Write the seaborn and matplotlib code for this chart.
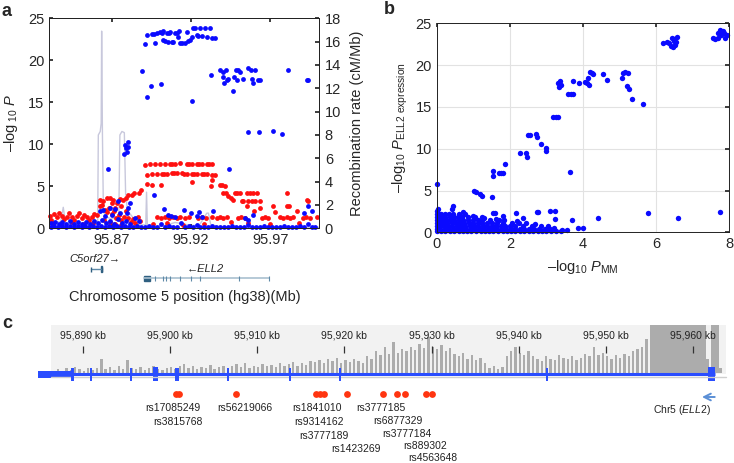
import numpy as np
import pandas as pd
import matplotlib
matplotlib.use('Agg')
import matplotlib.pyplot as plt
import seaborn as sns
from matplotlib.patches import Rectangle

# ---------------- panel a : regional association (Mb, -log10 P) ----------------
blue_top = [(95.8910, 21.9), (95.8920, 23.0), (95.8952, 23.1), (95.8967, 23.1), (95.8973, 22.0), (95.8988, 23.2),
            (95.9005, 23.4), (95.9015, 23.3), (95.9025, 23.5), (95.9025, 22.4), (95.9036, 22.3), (95.9047, 23.2),
            (95.9057, 22.2), (95.9062, 23.3), (95.9068, 23.4), (95.9078, 22.2), (95.9088, 22.2), (95.9099, 23.3),
            (95.9110, 23.3), (95.9120, 22.8), (95.9126, 23.5), (95.9131, 22.1), (95.9146, 22.1), (95.9162, 22.1),
            (95.9173, 23.4), (95.9180, 22.3), (95.9194, 22.4), (95.9204, 22.8), (95.9215, 23.8), (95.9225, 23.9),
            (95.9236, 23.0), (95.9246, 22.9), (95.9257, 23.9), (95.9267, 22.9), (95.9288, 23.9), (95.9299, 22.8),
            (95.9320, 23.9), (95.9330, 22.7), (95.9351, 22.6)]
blue_mid = [(95.8889, 18.7), (95.8921, 15.6), (95.8946, 16.9), (95.9009, 17.2), (95.9206, 15.1), (95.9324, 18.3),
            (95.9383, 18.8), (95.9404, 18.6), (95.9421, 18.8), (95.9404, 18.0), (95.9425, 17.6), (95.9435, 17.8),
            (95.9408, 17.3), (95.9463, 16.3), (95.9471, 18.0), (95.9484, 18.8), (95.9498, 18.9), (95.9509, 18.6),
            (95.9492, 17.7), (95.9530, 17.8), (95.9561, 19.1), (95.9576, 18.8), (95.9603, 18.8), (95.9583, 17.8),
            (95.9593, 17.3), (95.9624, 17.7), (95.9635, 17.7), (95.9810, 18.8), (95.9930, 17.6), (95.9940, 17.6),
            (95.9557, 11.5), (95.9630, 11.5), (95.9715, 11.6), (95.9776, 11.2),
            (95.8775, 8.9), (95.8784, 9.9), (95.8790, 9.5), (95.8799, 9.1), (95.8802, 9.7), (95.8806, 10.3),
            (95.8679, 7.0), (95.9442, 7.1), (95.8969, 4.0)]
blue_low = [(95.8626, 2.1), (95.8645, 2.2), (95.8689, 2.4), (95.8720, 2.3), (95.8742, 3.2), (95.8816, 3.0),
            (95.8805, 2.4), (95.8795, 1.8), (95.8755, 1.8), (95.9030, 2.3), (95.9057, 1.6), (95.9072, 1.5),
            (95.9100, 1.4), (95.9156, 2.2), (95.9198, 1.8), (95.9236, 1.5), (95.9253, 1.9), (95.9268, 1.4),
            (95.9337, 2.1), (95.9541, 1.2), (95.9562, 1.0), (95.9593, 1.6), (95.9913, 1.8), (95.9935, 2.6),
            (95.9961, 2.1), (95.8700, 1.6), (95.8660, 1.5), (95.8850, 1.2), (95.8870, 0.9),
            (95.8315, 0.2), (95.8315, 0.6), (95.8335, 0.3), (95.8340, 0.8), (95.8360, 0.1), (95.8365, 0.5),
            (95.8385, 0.3), (95.8390, 0.8), (95.8410, 0.15), (95.8415, 0.55), (95.8435, 0.3), (95.8440, 0.85),
            (95.8460, 0.1), (95.8465, 0.5), (95.8485, 0.3), (95.8490, 0.75), (95.8510, 0.15), (95.8515, 0.55),
            (95.8535, 0.3), (95.8540, 0.8), (95.8560, 0.1), (95.8565, 0.5), (95.8585, 0.3), (95.8590, 0.9),
            (95.8610, 0.15), (95.8615, 0.6), (95.8635, 0.3), (95.8640, 1.0), (95.8660, 0.15), (95.8665, 0.6),
            (95.8685, 0.3), (95.8690, 0.9), (95.8710, 0.1), (95.8715, 0.5), (95.8735, 0.3), (95.8740, 1.1),
            (95.8760, 0.15), (95.8765, 0.6), (95.8785, 0.3), (95.8790, 0.9), (95.8810, 0.2), (95.8815, 0.5),
            (95.8835, 0.15), (95.8860, 0.3), (95.8885, 0.1),
            (95.8910, 0.1), (95.8935, 0.3), (95.8960, 0.1), (95.8985, 0.2), (95.9010, 0.5), (95.9035, 0.1),
            (95.9060, 0.3), (95.9085, 0.1), (95.9110, 0.2), (95.9135, 0.6), (95.9160, 0.1), (95.9185, 0.3),
            (95.9210, 0.1), (95.9235, 0.4), (95.9260, 0.1), (95.9285, 0.2), (95.9310, 0.1), (95.9335, 0.3),
            (95.9360, 0.1), (95.9385, 0.2), (95.9410, 0.1), (95.9435, 0.1), (95.9460, 0.3), (95.9485, 0.1),
            (95.9510, 0.2), (95.9535, 0.1), (95.9560, 0.4), (95.9585, 0.1), (95.9610, 0.2), (95.9635, 0.1),
            (95.9660, 0.3), (95.9685, 0.1), (95.9710, 0.2), (95.9735, 0.1), (95.9760, 0.1), (95.9785, 0.3),
            (95.9810, 0.1), (95.9835, 0.2), (95.9860, 0.1), (95.9885, 0.3), (95.9910, 0.1), (95.9935, 0.5),
            (95.9960, 0.1), (95.9985, 0.2)]

red_hi = [(95.8910, 7.5), (95.8941, 7.6), (95.8973, 7.6), (95.9004, 7.6), (95.9036, 7.7), (95.9067, 7.7),
          (95.9083, 7.6), (95.9099, 7.7), (95.9130, 7.8), (95.9172, 7.7), (95.9188, 7.7), (95.9204, 7.7),
          (95.9235, 7.7), (95.9251, 7.6), (95.9267, 7.7), (95.9299, 7.7), (95.9315, 7.6), (95.9330, 7.7),
          (95.8921, 6.4), (95.8952, 6.5), (95.8984, 6.5), (95.9015, 6.5), (95.9031, 6.5), (95.9047, 6.5),
          (95.9078, 6.6), (95.9094, 6.6), (95.9110, 6.6), (95.9141, 6.6), (95.9157, 6.5), (95.9173, 6.5),
          (95.9204, 6.5), (95.9220, 6.5), (95.9236, 6.5), (95.9267, 6.5), (95.9283, 6.5), (95.9299, 6.5),
          (95.9330, 6.4), (95.9352, 6.3),
          (95.8921, 5.3), (95.8952, 5.2), (95.9009, 5.2), (95.9208, 5.5), (95.8885, 4.5), (95.8874, 4.2),
          (95.8841, 4.2), (95.8830, 4.0), (95.8805, 4.0), (95.8790, 3.6), (95.8773, 3.4), (95.8750, 3.5),
          (95.8732, 3.05), (95.8710, 3.4), (95.8690, 3.6), (95.8668, 3.6), (95.8647, 3.2), (95.8626, 3.4),
          (95.8700, 3.0), (95.8760, 2.6), (95.8720, 2.4),
          (95.9330, 5.7), (95.9324, 5.0), (95.9383, 5.2), (95.9398, 5.2), (95.9414, 5.0), (95.9404, 4.2),
          (95.9420, 4.2), (95.9435, 3.8), (95.9450, 3.6), (95.9467, 3.4), (95.9477, 4.2), (95.9492, 4.2),
          (95.9509, 4.2), (95.9520, 3.3), (95.9530, 3.3), (95.9551, 4.2), (95.9572, 4.2), (95.9593, 4.2),
          (95.9614, 4.2), (95.9561, 3.3), (95.9583, 3.3), (95.9604, 3.3), (95.9635, 3.3), (95.9551, 2.6),
          (95.9635, 2.4), (95.9715, 2.6), (95.9803, 2.6), (95.9818, 2.6), (95.9807, 4.2), (95.9933, 3.4),
          (95.9940, 3.2)]
red_low = [(95.8311, 1.5), (95.8320, 1.0), (95.8335, 1.7), (95.8353, 1.4), (95.8370, 1.8), (95.8385, 1.5),
           (95.8400, 1.1), (95.8416, 1.4), (95.8430, 1.8), (95.8448, 1.3), (95.8465, 1.0), (95.8479, 1.5),
           (95.8495, 1.8), (95.8511, 1.2), (95.8525, 1.6), (95.8542, 1.4), (95.8558, 1.0), (95.8574, 1.3),
           (95.8590, 1.7), (95.8605, 1.6), (95.8330, 0.6), (95.8380, 0.5), (95.8450, 0.7), (95.8520, 0.5),
           (95.8580, 0.6),
           (95.8626, 2.6), (95.8640, 2.8), (95.8655, 2.2), (95.8670, 1.9), (95.8685, 2.4), (95.8700, 1.7),
           (95.8715, 2.0), (95.8730, 1.2), (95.8745, 1.6), (95.8760, 1.0), (95.8775, 1.4), (95.8790, 2.0),
           (95.8805, 1.2), (95.8820, 0.8), (95.8835, 1.1), (95.8850, 0.6), (95.8865, 1.3), (95.8880, 0.9),
           (95.8650, 1.0), (95.8690, 0.8), (95.8720, 0.5), (95.8760, 0.4),
           (95.8984, 1.3), (95.9009, 1.2), (95.9035, 1.3), (95.9061, 1.2), (95.9088, 1.3), (95.9115, 1.2),
           (95.9130, 1.3), (95.9162, 1.2), (95.9190, 1.3), (95.9246, 1.2), (95.9270, 1.3), (95.9295, 1.2),
           (95.9330, 1.3), (95.9362, 1.2), (95.9383, 1.3), (95.9404, 1.2), (95.9425, 1.3), (95.9496, 1.2),
           (95.9518, 1.3), (95.9540, 1.2), (95.9646, 1.2), (95.9667, 1.3), (95.9687, 1.2), (95.9761, 1.3),
           (95.9782, 1.2), (95.9803, 1.3), (95.9824, 1.2), (95.9845, 1.4), (95.9906, 1.2), (95.9927, 1.3),
           (95.9950, 1.2), (95.9993, 1.3), (95.8960, 0.5), (95.9050, 0.6), (95.9150, 0.4), (95.9280, 0.5),
           (95.9450, 0.7), (95.9560, 0.6), (95.9700, 0.5), (95.9880, 0.6), (95.9600, 2.0), (95.9730, 1.9),
           (95.9870, 2.0)]

recomb_mb = [95.8307, 95.8350, 95.8380, 95.8395, 95.8410, 95.8500, 95.8580, 95.8612, 95.8616, 95.8628,
             95.8634, 95.8637, 95.8642, 95.8648, 95.8660, 95.8700, 95.8745, 95.8752, 95.8765, 95.8780,
             95.8788, 95.8800, 95.8830, 95.8860, 95.8915, 95.8920, 95.8925, 95.8950, 95.9000, 95.9100,
             95.9180, 95.9250, 95.9300, 95.9310, 95.9325, 95.9400, 95.9600, 95.9800, 96.0009]
recomb_rate = [0.4, 0.5, 0.6, 1.8, 0.4, 0.3, 0.3, 0.4, 8.0, 8.3, 9.0, 16.9, 8.0, 1.5, 1.0, 0.8, 1.0, 8.0, 8.3, 8.2,
               3.0, 1.5, 1.0, 0.3, 0.3, 3.1, 0.2, 0.1, 0.1, 0.5, 0.3, 0.2, 1.3, 1.3, 0.3, 0.1, 0.1, 0.05, 0.1]

# gene models under panel a (Mb)
c5orf27_span = (95.8568, 95.8639)
ell2_span = (95.8904, 95.9693)
ell2_box = (95.8904, 95.8942)
ell2_exons = [95.8973, 95.9023, 95.9042, 95.9068, 95.9131, 95.9200, 95.9257, 95.9503, 95.9693]

# ---------------- panel b : -log10 P_MM vs -log10 P_ELL2 expression ----------------
b_pts = [(0.0, 5.8), (0.03, 2.75), (1.02, 5.0), (1.08, 4.8), (1.18, 4.6), (1.23, 4.4), (1.5, 4.2), (1.55, 7.3),
         (1.55, 6.7), (1.7, 7.1), (1.76, 7.1), (1.82, 7.1), (1.87, 8.2), (2.28, 9.5), (2.44, 9.5), (2.46, 9.05),
         (2.5, 11.6), (2.55, 11.6), (2.72, 11.8), (2.73, 11.4), (2.84, 10.6), (3.0, 10.1), (3.0, 9.7),
         (3.19, 13.75), (3.26, 13.75), (3.33, 13.75), (3.6, 16.5), (3.67, 16.5), (3.74, 16.5), (3.64, 7.25),
         (3.33, 17.8), (3.36, 18.1), (3.40, 17.6), (3.35, 17.4), (3.72, 18.1), (3.88, 17.8), (4.05, 18.0),
         (4.12, 17.9), (4.15, 18.4), (4.19, 19.2), (4.24, 19.1), (4.28, 18.9), (4.17, 17.6), (4.55, 18.9),
         (4.65, 18.2), (5.06, 18.5), (5.08, 19.0), (5.15, 19.2), (5.24, 19.0), (5.19, 17.5), (5.26, 17.2),
         (5.35, 15.9), (5.65, 15.3),
         (6.2, 22.7), (6.29, 22.8), (6.35, 22.6), (6.42, 23.2), (6.48, 23.1), (6.47, 22.2), (6.52, 22.4),
         (6.56, 23.4), (6.55, 22.8), (6.5, 22.9), (6.4, 22.3),
         (7.56, 23.2), (7.62, 23.1), (7.7, 23.3), (7.74, 24.2), (7.82, 24.1), (7.93, 23.6), (7.85, 23.8),
         (7.78, 23.6), (7.88, 23.3), (7.68, 23.8),
         (3.69, 1.5), (3.87, 0.5), (3.99, 0.5), (4.4, 1.75), (5.79, 2.27), (6.6, 1.75), (7.74, 2.4),
         (3.1, 2.55), (3.23, 2.55), (2.73, 2.4), (2.78, 2.4), (2.17, 2.27), (2.37, 1.7), (1.6, 2.27),
         (1.82, 1.95), (1.62, 1.55), (3.23, 1.55), (3.55, 0.28), (3.42, 0.28),
         (0.0, 2.6), (0.45, 3.1), (0.42, 2.8), (0.72, 2.45), (1.0, 2.0), (1.3, 1.7), (1.55, 2.3), (2.2, 1.3),
         (2.45, 1.1), (2.7, 0.95), (3.05, 0.7), (3.2, 0.55)]
# dense low cloud, x values per row level of -log10 P_ELL2
b_cloud = {
    0.10: [0.0, 0.11, 0.23, 0.35, 0.47, 0.6, 0.71, 0.84, 0.95, 1.07, 1.2, 1.31, 1.44, 1.55, 1.68, 1.8, 1.91,
           2.04, 2.15, 2.28, 2.4, 2.51, 2.64, 2.76, 2.88, 3.0, 3.13, 3.27, 3.4],
    0.45: [0.0, 0.1, 0.22, 0.33, 0.46, 0.57, 0.7, 0.81, 0.93, 1.05, 1.18, 1.29, 1.42, 1.53, 1.66, 1.78, 1.9,
           2.02, 2.14, 2.27, 2.4, 2.52, 2.66, 2.8, 2.95, 3.1],
    0.80: [0.0, 0.09, 0.2, 0.31, 0.43, 0.55, 0.67, 0.78, 0.9, 1.02, 1.14, 1.26, 1.38, 1.5, 1.62, 1.75, 1.88,
           2.0, 2.15, 2.35, 2.6, 2.85],
    1.15: [0.0, 0.08, 0.18, 0.29, 0.41, 0.52, 0.64, 0.76, 0.88, 1.0, 1.12, 1.24, 1.37, 1.5, 1.65, 1.8, 2.05, 2.25],
    1.50: [0.0, 0.07, 0.16, 0.26, 0.37, 0.48, 0.6, 0.72, 0.85, 1.0, 1.12, 1.25, 1.45, 1.7, 1.85],
    1.85: [0.0, 0.06, 0.14, 0.24, 0.35, 0.46, 0.58, 0.7, 0.85, 1.05, 1.25],
    2.20: [0.0, 0.05, 0.13, 0.22, 0.33, 0.45, 0.6, 0.78],
}

# ---------------- panel c : genome browser (kb) ----------------
kb_ticks = [95890, 95900, 95910, 95920, 95930, 95940, 95950, 95960]
cov_start, cov_step = 95886.5, 0.5
coverage = [0.05, 0.08, 0.05, 0.10, 0.06, 0.12, 0.08, 0.05, 0.10, 0.07,
            0.10, 0.30, 0.08, 0.12, 0.06, 0.15, 0.09, 0.28, 0.10, 0.08,
            0.12, 0.07, 0.10, 0.15, 0.08, 0.06, 0.10, 0.12, 0.08, 0.14,
            0.18, 0.10, 0.15, 0.08, 0.12, 0.10, 0.16, 0.09, 0.12, 0.15,
            0.10, 0.14, 0.18, 0.12, 0.20, 0.10, 0.15, 0.12, 0.18, 0.14,
            0.16, 0.12, 0.20, 0.15, 0.18, 0.22, 0.14, 0.20, 0.16, 0.25,
            0.22, 0.28, 0.20, 0.30, 0.25, 0.32, 0.20, 0.28, 0.22, 0.30,
            0.25, 0.20, 0.35, 0.30, 0.45, 0.38, 0.55, 0.40, 0.65, 0.42,
            0.50, 0.45, 0.55, 0.48, 0.60, 0.52, 0.75, 0.55, 0.50, 0.58,
            0.45, 0.52, 0.40, 0.35, 0.42, 0.30, 0.38, 0.28, 0.32, 0.20,
            0.10, 0.15, 0.08, 0.12, 0.35, 0.45, 0.55, 0.42, 0.38, 0.45,
            0.35, 0.30, 0.25, 0.35, 0.30, 0.28, 0.38, 0.32, 0.30, 0.35,
            0.28, 0.32, 0.40, 0.35, 0.55, 0.38, 0.42, 0.35, 0.30, 0.38,
            0.32, 0.40, 0.35, 0.45, 0.50, 0.55, 0.70, 1.0, 1.0, 1.0,
            1.0, 1.0, 1.0, 1.0, 1.0, 1.0, 1.0, 1.0, 1.0, 1.0,
            0.30, 1.0, 1.0, 0.10]
browser_span = (95886.4, 95963.8)
gene_c_span = (95884.84, 95962.51)
gene_c_utr = (95884.84, 95888.77)
gene_c_exons = [95888.77, 95888.94, 95890.95, 95895.54, 95900.70, 95900.96, 95906.63, 95913.77, 95919.51,
                95943.25]
gene_c_boxes = [(95898.03, 95898.67), (95961.71, 95962.51)]
snp_kb = [95900.67, 95901.04, 95907.58, 95916.75, 95917.21, 95917.71, 95920.28, 95924.40, 95926.01, 95926.96,
          95929.33, 95930.09]
snp_names = ['rs17085249', 'rs3815768', 'rs56219066', 'rs1841010', 'rs9314162', 'rs3777189', 'rs1423269',
             'rs3777185', 'rs6877329', 'rs3777184', 'rs889302', 'rs4563648']
label_kb = [95900.30, 95900.87, 95908.61, 95916.87, 95917.10, 95917.67, 95921.34, 95924.21, 95926.10, 95927.19,
            95929.26, 95930.12]
label_row = [408, 422, 408, 408, 422, 436, 449, 408, 421, 434, 446, 458]

# ---------------- style ----------------
sns.set_theme(style='white')
plt.rcParams['font.family'] = ['Liberation Sans', 'DejaVu Sans']
plt.rcParams['mathtext.fontset'] = 'custom'
plt.rcParams['mathtext.rm'] = 'Liberation Sans'
plt.rcParams['mathtext.it'] = 'Liberation Sans:italic'
plt.rcParams['mathtext.bf'] = 'Liberation Sans:bold'
plt.rcParams['axes.edgecolor'] = '#222222'
plt.rcParams['axes.linewidth'] = 0.7

W, H = 734, 463
fig = plt.figure(figsize=(W / 100, H / 100), dpi=100)


def box(x0, y0, x1, y1):
    return [x0 / W, 1 - y1 / H, (x1 - x0) / W, (y1 - y0) / H]


BLUE, RED = '#0a0aff', '#ff1010'
TICKFS = 10.5

# ---- panel a ----
ax_a = fig.add_axes(box(49.3, 18.3, 319.3, 228.3))
ax_r = ax_a.twinx()
ax_a.set_zorder(ax_r.get_zorder() + 1)
ax_a.patch.set_visible(False)

sns.lineplot(x=recomb_mb, y=recomb_rate, ax=ax_r, color='#c8c8dc', lw=1.0, sort=False, estimator=None)
ax_r.set_ylim(0, 18)
ax_r.set_yticks(range(0, 19, 2))
ax_r.set_ylabel('Recombination rate (cM/Mb)', fontsize=TICKFS, labelpad=6)
ax_r.tick_params(axis='y', direction='in', length=3, labelsize=TICKFS, pad=4)

red_df = pd.DataFrame(red_low + red_hi, columns=['mb', 'p'])
blue_df = pd.DataFrame(blue_low + blue_mid + blue_top, columns=['mb', 'p'])
sns.scatterplot(data=red_df, x='mb', y='p', ax=ax_a, color=RED, s=12, linewidth=0, clip_on=False, legend=False)
sns.scatterplot(data=blue_df, x='mb', y='p', ax=ax_a, color=BLUE, s=12, linewidth=0, clip_on=False, legend=False)
ax_a.set_xlim(95.8307, 96.0009)
ax_a.set_ylim(0, 25)
ax_a.set_xticks([95.87, 95.92, 95.97])
ax_a.set_xticklabels(['95.87', '95.92', '95.97'])
ax_a.set_yticks(range(0, 26, 5))
ax_a.tick_params(direction='in', length=3, labelsize=TICKFS, top=True, right=False, bottom=True, left=True)
ax_a.set_xlabel('')
ax_a.set_ylabel('\u2013log$_{\\ 10}$ $P$', fontsize=TICKFS, labelpad=6)

# gene models under panel a
ax_g = fig.add_axes(box(49.3, 250, 319.3, 285))
ax_g.set_xlim(ax_a.get_xlim())
ax_g.set_ylim(285, 250)
ax_g.axis('off')
ax_g.plot(c5orf27_span, [269, 269], color='#5f8aa8', lw=1)
ax_g.vlines(c5orf27_span, 266.5, 271.5, color='#2f5f80', lw=1)
ax_g.add_patch(Rectangle((c5orf27_span[1] - 0.0006, 266), 0.0006, 6, color='#2f5f80'))
ax_g.text(np.mean(c5orf27_span) - 0.001, 259, 'C5orf27\u2192', style='italic', fontsize=8, ha='center', va='center')
ax_g.plot(ell2_span, [278, 278], color='#a9c0d0', lw=1.2)
ax_g.add_patch(Rectangle((ell2_box[0], 275.5), ell2_box[1] - ell2_box[0], 5, color='#2f5f80'))
ax_g.vlines(ell2_exons, 275.5, 280.5, color='#5f8aa8', lw=0.8)
ax_g.text(95.9291, 269, '\u2190ELL2', style='italic', fontsize=8, ha='center', va='center')
fig.text(185 / W, 1 - 297 / H, 'Chromosome 5 position (hg38)(Mb)', ha='center', va='center', fontsize=TICKFS)

# ---- panel b ----
ax_b = fig.add_axes(box(436.7, 23.3, 729.3, 232.3))
cloud = [(x, y) for y, xs in b_cloud.items() for x in xs]
b_df = pd.DataFrame(cloud + b_pts, columns=['mm', 'ell2'])
sns.scatterplot(data=b_df, x='mm', y='ell2', ax=ax_b, color=BLUE, s=15, linewidth=0, clip_on=False, legend=False)
ax_b.set_xlim(0, 8)
ax_b.set_ylim(0, 25)
ax_b.set_xticks([0, 2, 4, 6, 8])
ax_b.set_yticks(range(0, 26, 5))
ax_b.grid(True, color='#e2e2e2', lw=0.8)
ax_b.set_axisbelow(True)
ax_b.tick_params(direction='in', length=3, labelsize=TICKFS, top=True, right=True)
ax_b.set_xlabel('\u2013log$_{10}$ $P_{\\rm MM}$', fontsize=TICKFS, labelpad=5)
ax_b.set_ylabel('\u2013log$_{10}$ $P_{\\rm ELL2\\ expression}$', fontsize=TICKFS, labelpad=4)

# ---- panel c ----
px_per_kb = 8.72
ax_c = fig.add_axes(box(30, 310, 734, 463))
ax_c.set_xlim(95890 + (30 - 82.7) / px_per_kb, 95890 + (734 - 82.7) / px_per_kb)
ax_c.set_ylim(463, 310)
ax_c.axis('off')
ax_c.add_patch(Rectangle((browser_span[0], 325), browser_span[1] - browser_span[0], 49, color='#f2f2f2', lw=0))
cov_kb = [cov_start + i * cov_step for i in range(len(coverage))]
cov_h = [48 * v for v in coverage]
cov_w = [cov_step if v >= 0.95 else cov_step * 0.55 for v in coverage]
ax_c.bar(cov_kb, cov_h, width=cov_w, bottom=[373 - h for h in cov_h], align='edge', color='#acacac', lw=0)
ax_c.plot(browser_span, [376.5, 376.5], color='#cfcfcf', lw=1)
for kb in kb_ticks:
    ax_c.text(kb, 336, f'{kb:,} kb', ha='center', va='center', fontsize=7.5, color='#222222')
ax_c.vlines(kb_ticks, 345.5, 352.5, color='#333333', lw=0.9)

GENE = '#2a4dff'
ax_c.plot(gene_c_span, [374, 374], color=GENE, lw=2.2, solid_capstyle='butt')
ax_c.add_patch(Rectangle((gene_c_utr[0], 370.5), gene_c_utr[1] - gene_c_utr[0], 7, color=GENE, lw=0))
ax_c.vlines(gene_c_exons, 368, 381, color=GENE, lw=1.4)
for s0, s1 in gene_c_boxes:
    ax_c.add_patch(Rectangle((s0, 367), s1 - s0, 14, color=GENE, lw=0))

sns.scatterplot(x=snp_kb, y=[394] * len(snp_kb), ax=ax_c, color='#ff3510', s=24, linewidth=0, legend=False)
for name, kb, row in zip(snp_names, label_kb, label_row):
    ax_c.text(kb, row, name, ha='center', va='center', fontsize=7.5, color='#222222')
ax_c.text(95958.77, 410, 'Chr5 ($\\it{ELL2}$)', ha='center', va='center', fontsize=7.5, color='#222222')
ax_c.annotate('', xy=(95960.7, 397), xytext=(95962.8, 397),
              arrowprops=dict(arrowstyle='->', color='#5b8fd6', lw=1.4))

# panel letters
fig.text(2 / W, 1 - 11 / H, 'a', fontsize=13, fontweight='bold', va='center')
fig.text(384 / W, 1 - 9 / H, 'b', fontsize=13, fontweight='bold', va='center')
fig.text(2 / W, 1 - 323 / H, 'c', fontsize=13, fontweight='bold', va='center')

fig.savefig('out.png', dpi=100)
